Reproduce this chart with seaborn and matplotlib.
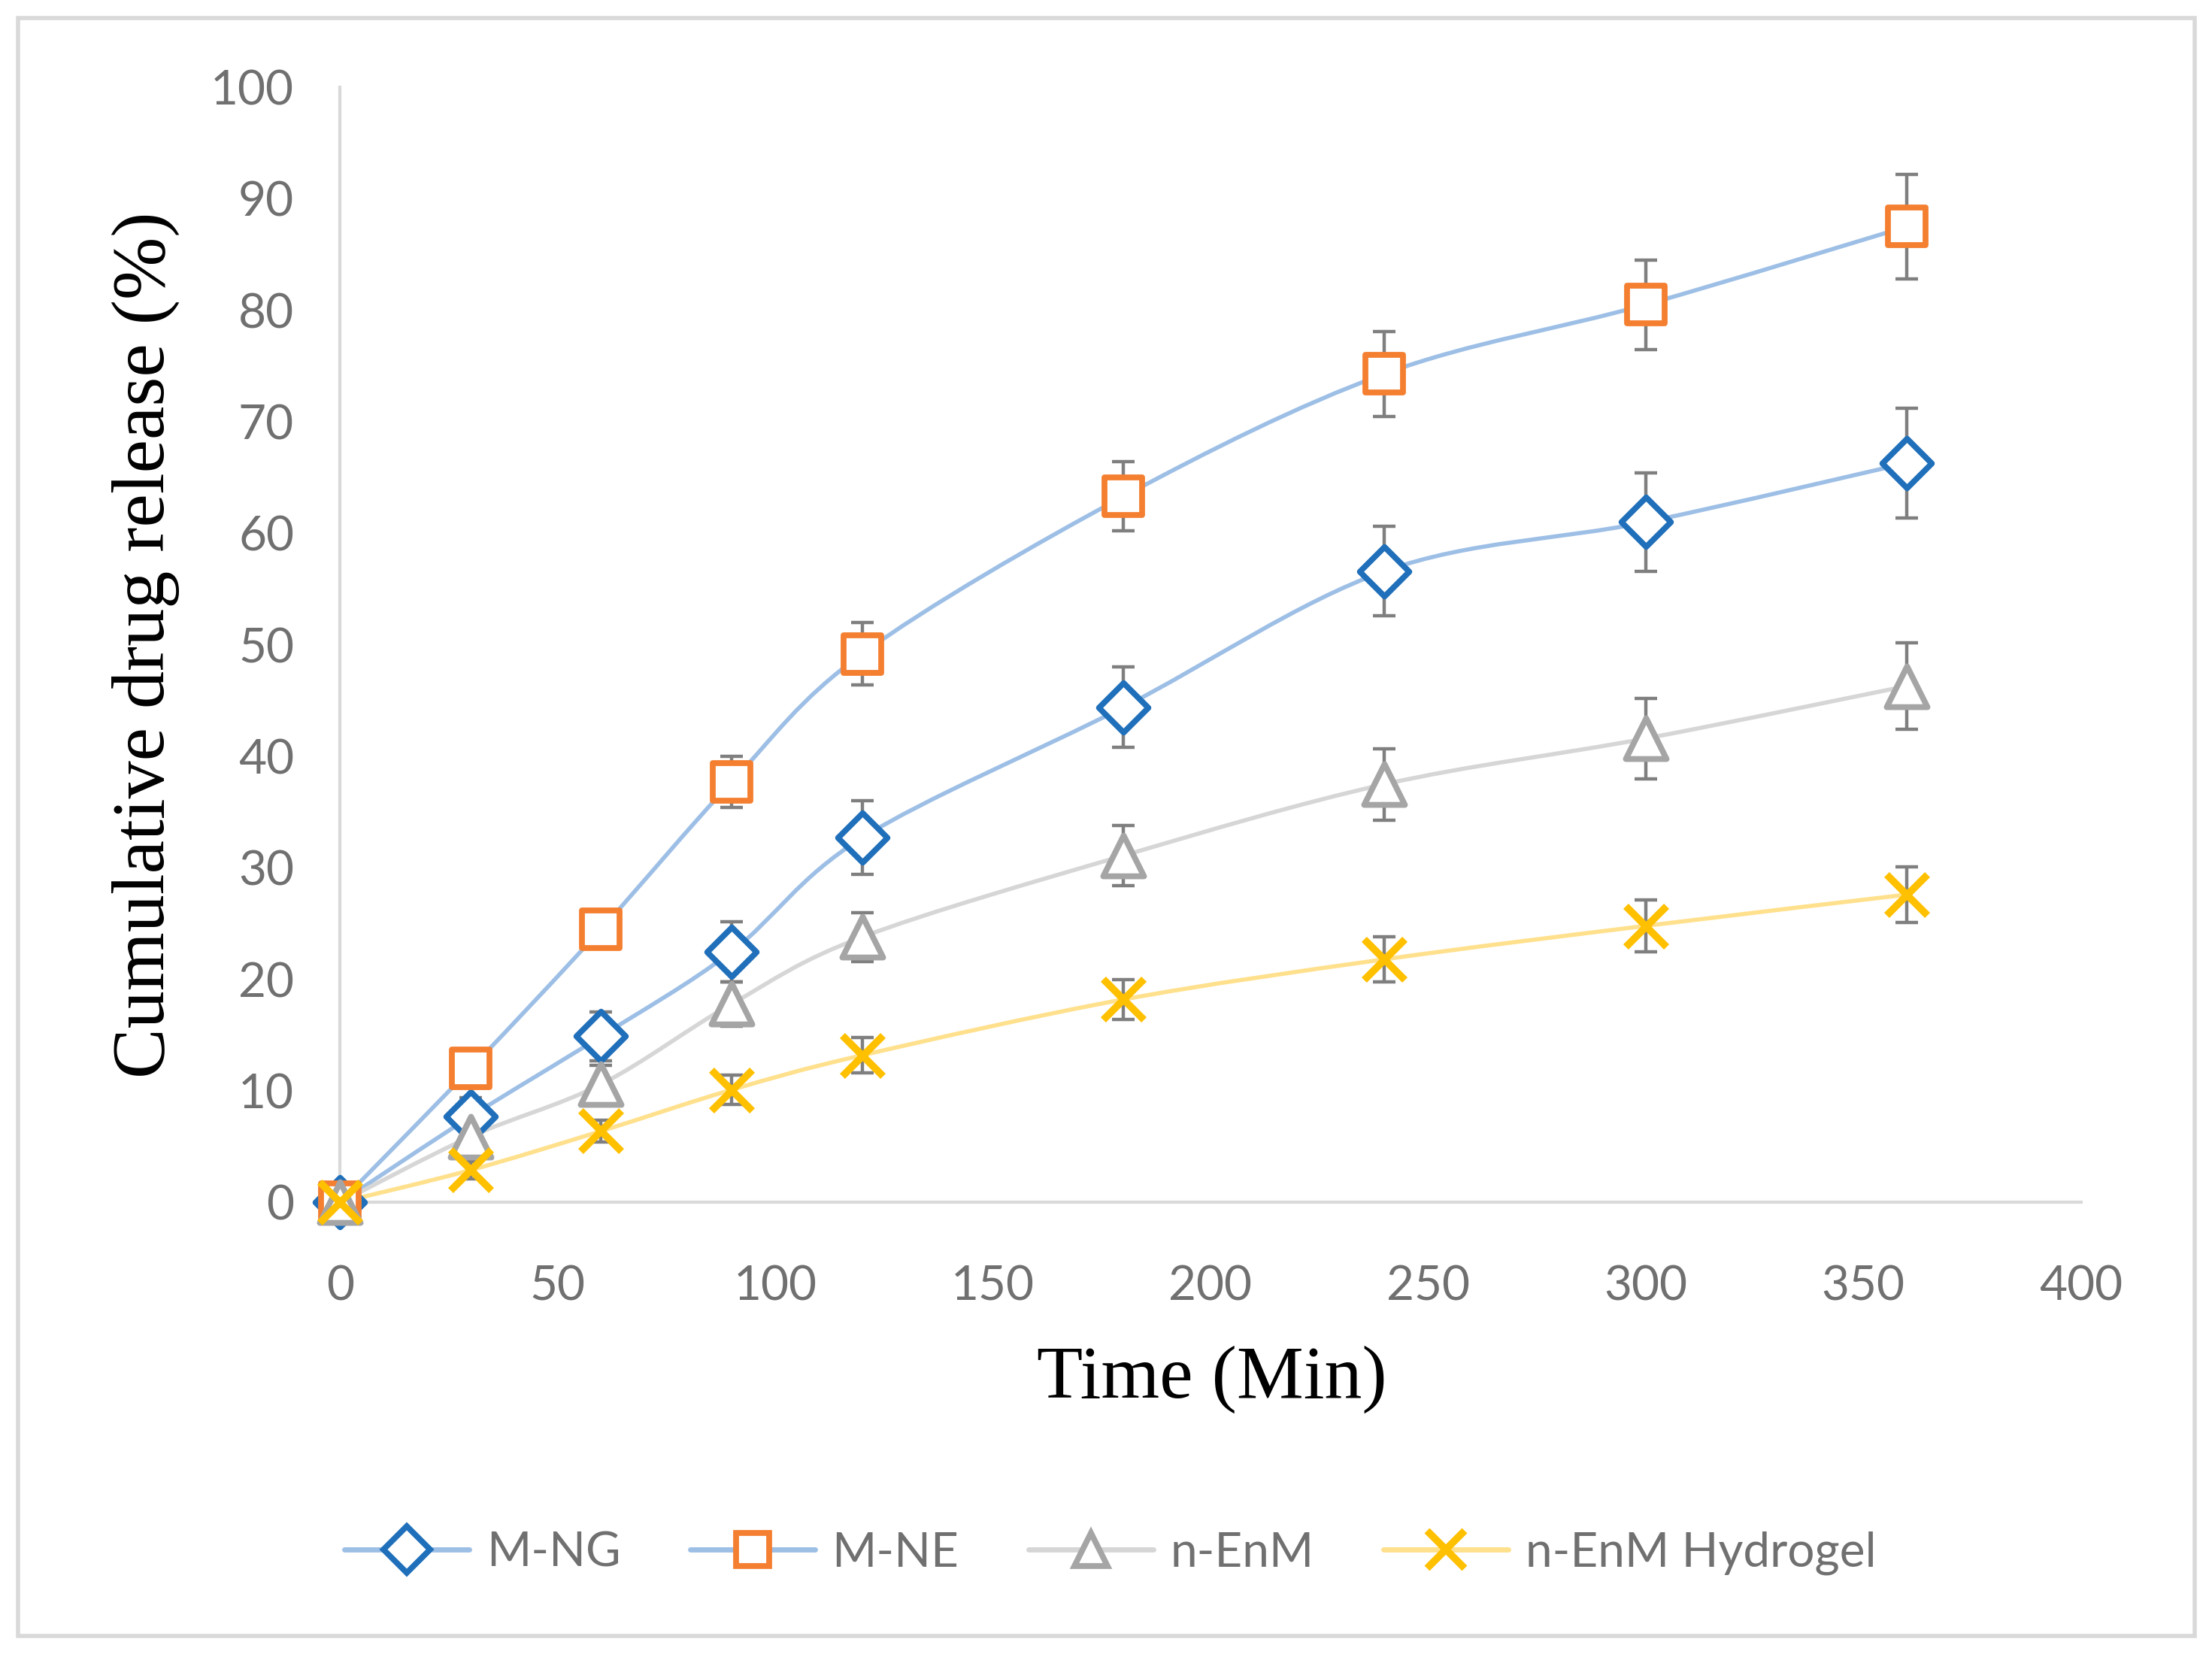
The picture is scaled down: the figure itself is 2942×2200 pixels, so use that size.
import numpy as np
import pandas as pd
import matplotlib
matplotlib.use("Agg")
import matplotlib.pyplot as plt
from matplotlib.path import Path
from matplotlib.patches import PathPatch, Rectangle
from matplotlib.lines import Line2D
import seaborn as sns

# data
time_min = [0, 30, 60, 90, 120, 180, 240, 300, 360]

m_ng = [0, 7.7, 14.9, 22.5, 32.7, 44.4, 56.6, 61.0, 66.3]
m_ng_err = [0, 1.7, 2.2, 2.7, 3.3, 3.6, 4.0, 4.4, 4.9]

m_ne = [0, 12.0, 24.5, 37.7, 49.2, 63.3, 74.3, 80.5, 87.5]
m_ne_err = [0, 1.0, 1.5, 2.3, 2.8, 3.1, 3.8, 4.0, 4.7]

n_enm = [0, 5.9, 10.6, 17.8, 23.8, 31.1, 37.5, 41.6, 46.3]
n_enm_err = [0, 1.5, 1.7, 2.0, 2.2, 2.7, 3.2, 3.6, 3.9]

n_enm_gel = [0, 2.9, 6.4, 10.1, 13.2, 18.2, 21.8, 24.8, 27.6]
n_enm_gel_err = [0, 0.8, 1.0, 1.3, 1.6, 1.8, 2.0, 2.3, 2.5]

names = ["M-NG", "M-NE", "n-EnM", "n-EnM Hydrogel"]

df = pd.DataFrame({
    "time": time_min * 4,
    "release": m_ng + m_ne + n_enm + n_enm_gel,
    "err": m_ng_err + m_ne_err + n_enm_err + n_enm_gel_err,
    "series": [n for n in names for _ in time_min],
})

styles = {
    "M-NG": dict(marker="D", edge="#1F6FBA", line="#9DBFE6", size=280, lw=2.8, fill="white"),
    "M-NE": dict(marker="s", edge="#F47F30", line="#9DBFE6", size=330, lw=2.8, fill="white"),
    "n-EnM": dict(marker="^", edge="#A5A5A5", line="#D6D6D6", size=380, lw=2.8, fill="white"),
    "n-EnM Hydrogel": dict(marker="x", edge="#FFC000", line="#FFE08C", size=380, lw=3.5, fill="#FFC000"),
}
text_grey = "#707070"

sns.set_theme(style="white")
plt.rcParams["font.family"] = ["Lato", "DejaVu Sans"]

fig = plt.figure(figsize=(14.71, 11.0), dpi=200)
ax = fig.add_axes([0.1537, 0.273, 0.787, 0.6743])


def smooth_path(xs, ys):
    # catmull-rom style bezier through the points, like Excel's smoothed line
    pts = np.column_stack([xs, ys]).astype(float)
    verts = [pts[0]]
    codes = [Path.MOVETO]
    n = len(pts)
    for i in range(n - 1):
        p0 = pts[i - 1] if i > 0 else pts[i]
        p1 = pts[i]
        p2 = pts[i + 1]
        p3 = pts[i + 2] if i + 2 < n else pts[i + 1]
        c1 = p1 + (p2 - p0) / 6.0
        c2 = p2 - (p3 - p1) / 6.0
        verts += [c1, c2, p2]
        codes += [Path.CURVE4] * 3
    return Path(verts, codes)


for k, name in enumerate(names):
    sub = df[df["series"] == name]
    st = styles[name]
    patch = PathPatch(smooth_path(sub["time"], sub["release"]), fill=False,
                      edgecolor=st["line"], lw=2.0, zorder=2)
    ax.add_patch(patch)
    ax.errorbar(sub["time"], sub["release"], yerr=sub["err"], fmt="none",
                ecolor="#7F7F7F", elinewidth=1.6, capsize=5.5, capthick=1.6, zorder=3)

for k, name in enumerate(names):
    sub = df[df["series"] == name]
    st = styles[name]
    if st["marker"] == "x":
        sns.scatterplot(x=sub["time"], y=sub["release"], ax=ax, marker="x",
                        s=st["size"], color=st["edge"], linewidth=st["lw"], zorder=5 + k)
    else:
        sns.scatterplot(x=sub["time"], y=sub["release"], ax=ax, marker=st["marker"],
                        s=st["size"], facecolor=st["fill"], edgecolor=st["edge"],
                        linewidth=st["lw"], zorder=5 + k)

ax.set_xlim(0, 400)
ax.set_ylim(0, 100)
ax.set_xticks(range(0, 401, 50))
ax.set_yticks(range(0, 101, 10))
ax.set_xlabel("")
ax.set_ylabel("")
ax.tick_params(axis="both", length=0, labelsize=23, labelcolor=text_grey)
ax.tick_params(axis="y", pad=22)
ax.tick_params(axis="x", pad=30)
for s in ["top", "right"]:
    ax.spines[s].set_visible(False)
for s in ["left", "bottom"]:
    ax.spines[s].set_color("#D9D9D9")
    ax.spines[s].set_linewidth(1.5)
ax.grid(False)
for c in ax.collections:
    c.set_clip_on(False)

fig.text(0.066, 0.61, "Cumulative drug release (%)", rotation=90, ha="center", va="center",
         fontsize=36, family=["Liberation Serif", "DejaVu Serif"], color="black")
fig.text(0.548, 0.166, "Time (Min)", ha="center", va="center",
         fontsize=36, family=["Liberation Serif", "DejaVu Serif"], color="black")

handles = []
for name in names:
    st = styles[name]
    handles.append(Line2D([0], [0], color=st["line"], lw=2.5, marker=st["marker"],
                          markersize=16 if st["marker"] != "x" else 18,
                          markerfacecolor=st["fill"], markeredgecolor=st["edge"],
                          markeredgewidth=st["lw"]))
leg = fig.legend(handles, names, loc="center", bbox_to_anchor=(0.502, 0.061), ncol=4,
                 frameon=False, fontsize=23, handlelength=2.6, handletextpad=0.35,
                 columnspacing=1.45)
for t in leg.get_texts():
    t.set_color(text_grey)

fig.patches.append(Rectangle((0.0083, 0.011), 0.984, 0.978, transform=fig.transFigure,
                             fill=False, edgecolor="#D9D9D9", lw=2.0))

fig.savefig("out.png", dpi=200, facecolor="white")
